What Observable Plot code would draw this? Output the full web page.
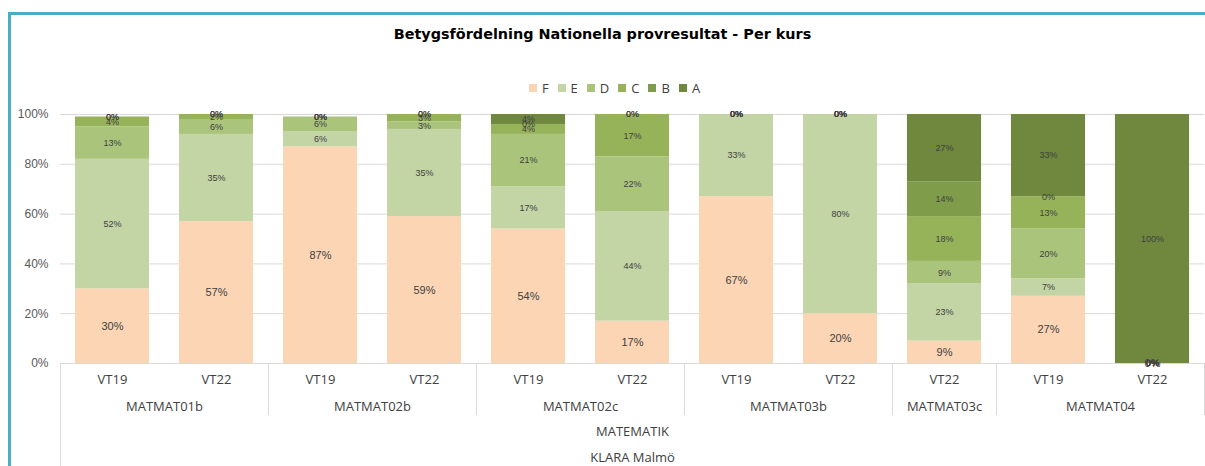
<!DOCTYPE html>
<html>
<head>
<meta charset="utf-8">
<script src="https://cdn.jsdelivr.net/npm/d3@7"></script>
<script src="https://cdn.jsdelivr.net/npm/@observablehq/plot@0.6"></script>
<style>
  html, body { margin: 0; padding: 0; background: #fff; }
  body { width: 1205px; height: 466px; overflow: hidden; position: relative; font-family: "Liberation Sans", Arial, sans-serif; }
  #frame { position: absolute; left: 8px; top: 12px; right: 0; bottom: -5px; border-top: 3px solid #4BACC6; border-left: 3px solid #4BACC6; }
  #title { position: absolute; top: 26px; left: 0; width: 1205px; text-align: center; font-family: "DejaVu Sans", sans-serif; font-weight: bold; font-size: 14.4px; color: #000; }
  #legend { position: absolute; top: 79px; left: 0; width: 1205px; box-sizing: border-box; padding-left: 24px; display: flex; justify-content: center; gap: 9px; font-family: "Open Sans", sans-serif; font-size: 13px; color: #404040; }
  #legend .item { display: flex; align-items: center; gap: 5px; }
  #legend .sw { width: 8px; height: 8px; display: inline-block; }
  #chart { position: absolute; top: 100px; left: 0; }
</style>
</head>
<body>
<div id="frame"></div>
<div id="title"></div>
<div id="legend"></div>
<div id="chart"></div>
<script>
const titleText = "Betygsfördelning Nationella provresultat - Per kurs";
const grades = ["F", "E", "D", "C", "B", "A"];
const gradeColors = ["#FCD5B5", "#C3D4A5", "#AAC47C", "#97B35A", "#7E9C4A", "#6F883D"];
const courses = ["MATMAT01b","MATMAT01b","MATMAT02b","MATMAT02b","MATMAT02c","MATMAT02c","MATMAT03b","MATMAT03b","MATMAT03c","MATMAT04","MATMAT04"];
const periods = ["VT19","VT22","VT19","VT22","VT19","VT22","VT19","VT22","VT22","VT19","VT22"];
const valF = [30, 57, 87, 59, 54, 17, 67, 20, 9, 27, 0];
const valE = [52, 35, 6, 35, 17, 44, 33, 80, 23, 7, 0];
const valD = [13, 6, 6, 3, 21, 22, 0, 0, 9, 20, 0];
const valC = [4, 2, 0, 3, 4, 17, 0, 0, 18, 13, 0];
const valB = [0, 0, 0, 0, 0, 0, 0, 0, 14, 0, 0];
const valA = [0, 0, 0, 0, 4, 0, 0, 0, 27, 33, 100];
const subject = "MATEMATIK";
const school = "KLARA Malmö";
const yTicks = [0, 20, 40, 60, 80, 100];

document.getElementById("title").textContent = titleText;
const legend = document.getElementById("legend");
grades.forEach((g, k) => {
  const it = document.createElement("div");
  it.className = "item";
  const sw = document.createElement("span");
  sw.className = "sw";
  sw.style.background = gradeColors[k];
  const lb = document.createElement("span");
  lb.textContent = g;
  it.appendChild(sw); it.appendChild(lb);
  legend.appendChild(it);
});

const series = [valF, valE, valD, valC, valB, valA];
const bars = courses.map((c, i) => ({i, course: c, period: periods[i]}));
const segments = [];
bars.forEach(b => {
  let acc = 0;
  grades.forEach((g, k) => {
    const v = series[k][b.i];
    segments.push({i: b.i, grade: g, value: v, y1: acc, y2: acc + v, mid: acc + v / 2});
    acc += v;
  });
});

const groups = d3.groups(bars, d => d.course).map(([c, arr]) => ({
  course: c,
  center: d3.mean(arr, d => d.i),
  start: d3.min(arr, d => d.i) - 0.5,
  end: d3.max(arr, d => d.i) + 0.5
}));
const separators = [...new Set(groups.flatMap(g => [g.start, g.end]))];
const half = 0.356;
const mid = d3.mean(bars, d => d.i);
const catFont = "Open Sans, sans-serif";

const chart = Plot.plot({
  width: 1205,
  height: 366,
  marginTop: 14,
  marginBottom: 103,
  marginLeft: 60,
  marginRight: 1,
  style: {fontFamily: "Liberation Sans, Arial, sans-serif", fontSize: "12px", color: "#595959", background: "transparent"},
  x: {type: "linear", domain: [-0.5, bars.length - 0.5], axis: null},
  y: {domain: [0, 100], ticks: yTicks, tickFormat: d => d + "%", tickSize: 0, tickPadding: 12, label: null},
  color: {domain: grades, range: gradeColors},
  marks: [
    Plot.ruleY(yTicks, {stroke: "#d9d9d9", strokeWidth: 1}),
    Plot.rectY(segments, {x1: d => d.i - half, x2: d => d.i + half, y1: "y1", y2: "y2", fill: "grade"}),
    Plot.text(segments.filter(d => d.grade === "F"), {x: "i", y: "mid", text: d => d.value + "%", fontSize: 11, fill: "#404040"}),
    Plot.text(segments.filter(d => d.grade !== "F"), {x: "i", y: "mid", text: d => d.value + "%", fontSize: 9, fill: "#404040"}),
    Plot.ruleX(separators, {x: d => d, y1: 0, y2: 0, insetBottom: -52, stroke: "#d9d9d9"}),
    Plot.ruleX([-0.5], {x: d => d, y1: 0, y2: 0, insetBottom: -110, stroke: "#d9d9d9"}),
    Plot.text(bars, {x: "i", text: "period", frameAnchor: "bottom", dy: 20, fontSize: 13, fontFamily: catFont, fill: "#404040"}),
    Plot.text(groups, {x: "center", text: "course", frameAnchor: "bottom", dy: 47, fontSize: 13, fontFamily: catFont, fill: "#404040"}),
    Plot.text([subject], {x: () => mid, text: d => d, frameAnchor: "bottom", dy: 72, fontSize: 13, fontFamily: catFont, fill: "#404040"}),
    Plot.text([school], {x: () => mid, text: d => d, frameAnchor: "bottom", dy: 98, fontSize: 13, fontFamily: catFont, fill: "#404040"})
  ]
});
document.getElementById("chart").appendChild(chart);
</script>
</body>
</html>
